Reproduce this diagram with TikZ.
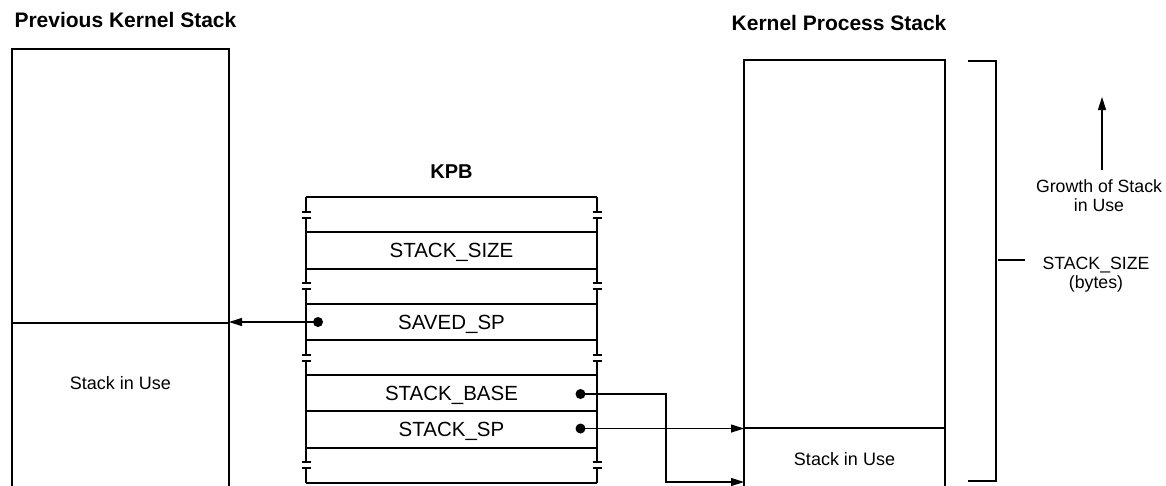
\documentclass[tikz,border=0pt]{standalone}
\usepackage{fontspec}
\setmainfont{Liberation Sans}
\usetikzlibrary{arrows.meta}
\begin{document}
\begin{tikzpicture}[x=1pt,y=-1pt,line width=1.1pt,
  stackbox/.style={draw,inner sep=0pt,outer sep=0pt,minimum width=#1,anchor=north west},
  field/.style={draw,inner sep=0pt,outer sep=0pt,minimum width=291pt,minimum height=#1,
    text height=14.7pt,text depth=0pt,font=\fontsize{20.5}{24}\selectfont},
  title/.style={inner sep=0pt,font=\fontsize{21}{25}\selectfont\bfseries},
  smalltext/.style={inner sep=0pt,font=\fontsize{18}{20}\selectfont,text height=12.9pt,text depth=0pt},
  sidetext/.style={inner sep=0pt,align=center,font=\fontsize{17.7}{19}\selectfont,anchor=north},
  ptr/.style={-{Triangle[length=13pt,width=8pt]}},
  dot/.style={fill},
  tick/.style={line width=1.1pt}]
\useasboundingbox (0,0) rectangle (1166,485);

% titles
\node[title,anchor=base west] (t1) at (14,27) {Previous Kernel Stack};
\node[title,anchor=base east] (t2) at (947,30) {Kernel Process Stack};
\node[title,anchor=base,font=\fontsize{20}{24}\selectfont\bfseries] (t3) at (451.5,178) {KPB};

% previous kernel stack
\node[stackbox=217pt,minimum height=274pt] (prevtop) at (12,49) {};
\node[stackbox=217pt,minimum height=170pt] (prevuse) at (12,323) {};
\node[smalltext] (prevtxt) at (120.5,383.3) {Stack in Use};

% kernel process stack
\node[stackbox=201pt,minimum height=368pt] (kpstop) at (744,60) {};
\node[stackbox=201pt,minimum height=62pt,smalltext] (kpsuse) at (744,428) {};
\node[smalltext] (kpstxt) at (844.5,459) {Stack in Use};

% KPB structure
\node[inner sep=0pt,outer sep=0pt,minimum width=291pt,minimum height=286pt,anchor=north west] (kpb) at (306,197) {};
\draw (kpb.north west) -- (kpb.north east);
\draw (kpb.south west) -- (kpb.south east);
\foreach \x in {306,597}{
  \draw (\x,197) -- (\x,212) (\x,218) -- (\x,283) (\x,289) -- (\x,355)
        (\x,361) -- (\x,462) (\x,468) -- (\x,483);
  \foreach \y in {212,218,283,289,355,361,462,468}
    \draw[tick] (\x-4.5,\y) -- (\x+4.5,\y);
}
\node[field=37pt] (ssize) at (451.5,250.5) {STACK\_SIZE};
\node[field=36pt] (saved) at (451.5,322) {SAVED\_SP};
\node[field=36pt] (sbase) at (451.5,393) {STACK\_BASE};
\node[field=37pt] (ssp)   at (451.5,429.5) {STACK\_SP};

% pointers
\coordinate (d1) at ([xshift=12pt]saved.west);
\coordinate (d2) at ([xshift=-16.5pt,yshift=-1pt]sbase.east);
\coordinate (d3) at ([xshift=-16.5pt,yshift=1pt]ssp.east);
\coordinate (baseend) at (744,482);
\fill[dot] (d1) circle (5pt);
\fill[dot] (d2) circle (5pt);
\fill[dot] (d3) circle (5pt);
\draw[ptr] (d1) -- (d1 -| prevtop.east);
\draw[ptr] (d2) -- (666,394) |- (baseend);
\draw[ptr] (d3) -- (d3 -| kpstop.west);

% size bracket
\draw (968,61) -- (996,61) -- (996,481) -- (968,481);
\draw (998,260) -- (1025,260);
\node[sidetext] (sizetxt) at (1096,257) {STACK\_SIZE\\(bytes)};

% growth arrow
\node[sidetext] (growth) at (1099,179) {Growth of Stack\\in Use};
\coordinate (gtip) at (1102,97);
\draw[ptr] (gtip |- 0,170) -- (gtip);
\end{tikzpicture}
\end{document}
